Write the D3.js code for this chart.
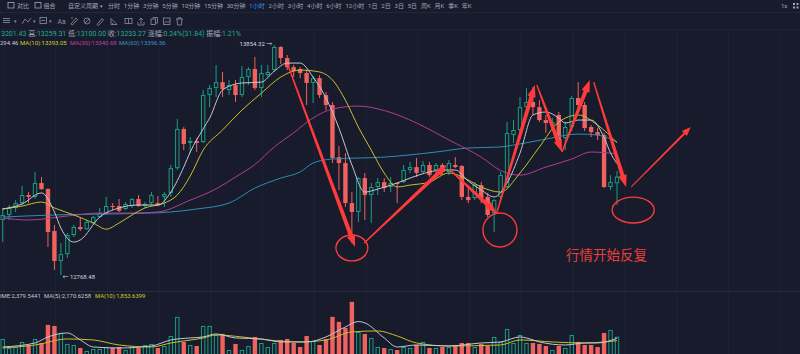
<!DOCTYPE html>
<html>
<head>
<meta charset="utf-8">
<script src="https://cdn.jsdelivr.net/npm/d3@7"></script>
<style>
html, body { margin: 0; padding: 0; background: #171b2b; overflow: hidden; }
svg { display: block; }
text { font-family: Roboto, "Noto Sans CJK SC", sans-serif; }
</style>
</head>
<body>
<div id="container"></div>
<script>
'use strict';
(function() {
    // candles [open, high, low, close], 1 hour bars
    var ohlc = [
        [13028,13085,12924,13052],[13052,13099,13028,13085],[13085,13122,13066,13108],[13108,13188,13099,13146],
        [13146,13160,13108,13137],[13137,13255,13127,13203],[13203,13231,13170,13174],[13174,13179,12901,12971],
        [12976,13005,12792,12835],[12835,12919,12768.48,12867],[12867,12967,12849,12957],[12957,13005,12948,12995],
        [12995,13042,12976,12985],[12985,13028,12981,13019],[13014,13047,13009,13042],[13042,13085,13038,13061],
        [13056,13137,13052,13094],[13094,13108,13075,13090],[13094,13127,13066,13071],[13080,13113,13075,13104],
        [13094,13132,13085,13127],[13127,13146,13090,13094],[13094,13113,13085,13104],[13108,13160,13099,13146],
        [13108,13141,13094,13099],[13137,13160,13090,13151],[13156,13288,13137,13273],[13273,13505,13264,13458],
        [13458,13467,13358,13387],[13392,13420,13344,13401],[13401,13415,13349,13392],[13396,13642,13392,13618],
        [13618,13665,13561,13651],[13651,13760,13609,13679],[13679,13727,13609,13646],[13642,13689,13618,13665],
        [13665,13689,13585,13618],[13618,13755,13609,13703],[13703,13750,13665,13741],[13741,13798,13642,13651],
        [13651,13760,13609,13722],[13712,13760,13703,13727],[13736,13854.32,13727,13845],[13845,13849,13764,13793],
        [13793,13807,13736,13750],[13750,13760,13703,13731],[13741,13750,13698,13722],[13722,13736,13571,13675],
        [13675,13708,13580,13698],[13698,13712,13604,13618],[13618,13632,13547,13571],[13571,13585,13297,13321],
        [13325,13377,13170,13297],[13297,13344,13090,13108],[13108,13160,12919,13066],[13066,13231,13019,13226],
        [13226,13250,13028,13146],[13146,13203,13014,13184],[13184,13226,13146,13207],[13207,13226,13160,13179],
        [13184,13231,13160,13203],[13203,13207,13108,13198],[13207,13288,13203,13264],[13264,13302,13250,13278],
        [13278,13321,13231,13250],[13255,13306,13250,13288],[13288,13302,13231,13240],[13264,13297,13236,13288],
        [13288,13297,13245,13255],[13255,13311,13240,13297],[13288,13325,13273,13278],[13283,13288,13122,13137],
        [13137,13184,13108,13122],[13132,13207,13122,13193],[13193,13207,13108,13132],[13137,13156,13042,13052],
        [13061,13127,12971,13122],[13137,13255,13127,13240],[13184,13491,13179,13439],[13429,13500,13392,13453],
        [13453,13609,13439,13561],[13561,13651,13538,13585],[13585,13656,13524,13561],[13561,13594,13491,13500],
        [13500,13524,13439,13486],[13476,13510,13458,13491],[13524,13538,13392,13406],[13415,13491,13358,13467],
        [13467,13613,13448,13604],[13604,13679,13547,13571],[13571,13585,13448,13462],[13467,13476,13420,13443],
        [13443,13462,13406,13429],[13429,13439,13179,13184],[13184,13240,13170,13207],[13201.43,13259.31,13100.00,13233.27]
    ];
    var volumes = [
        2080,910,1040,1690,1300,2080,1560,3900,3770,2860,
        1430,1300,910,520,780,780,1040,910,1040,650,
        1040,910,1300,1430,910,1170,2470,4940,1690,1300,
        1170,3770,3770,2600,2730,650,1430,650,1170,2340,
        1560,1040,1560,1950,2080,1560,1040,2470,1820,1300,
        2080,4940,4290,3510,6890,2990,2730,2210,1040,910,
        780,650,1040,910,1300,1690,910,910,1040,1040,
        1300,1560,1560,1040,1430,1170,2340,1690,3380,1560,
        2600,1560,1560,1430,1170,650,1170,910,2600,1690,
        1300,1300,1040,2860,3250,2379.5441
    ];

    // moving averages [bar index, value]
    var ma5 = [[0,13080],[3,13104],[6,13156],[8,13066],[9,12990],[11,12924],[12,12934],[15,13042],[18,13085],
        [21,13099],[24,13099],[26,13160],[28,13278],[29,13349],[31,13458],[32,13509],[34,13642],[37,13675],
        [40,13679],[42,13731],[44,13769],[46,13769],[48,13703],[50,13604],[52,13462],[54,13288],[56,13160],
        [58,13174],[61,13203],[63,13226],[66,13255],[68,13264],[70,13264],[72,13212],[74,13170],[76,13137],
        [78,13203],[80,13344],[82,13524],[84,13538],[86,13509],[87,13486],[89,13500],[91,13500],[93,13418],
        [94,13345],[95,13294.46]];
    var ma10 = [[0,13080],[3,13094],[6,13113],[8,13085],[11,13052],[14,13014],[16,12985],[18,13014],[20,13052],
        [22,13085],[25,13108],[27,13146],[29,13236],[31,13358],[34,13453],[37,13547],[40,13627],[43,13703],
        [46,13736],[49,13727],[51,13689],[53,13594],[55,13467],[57,13358],[59,13250],[61,13184],[63,13193],
        [66,13207],[69,13250],[72,13217],[74,13184],[77,13160],[80,13250],[83,13373],[86,13491],[89,13524],
        [92,13476],[95,13393.05]];
    var ma30 = [[0,13038],[4,13028],[10,13047],[15,13061],[20,13061],[24,13066],[29,13122],[33,13175],
        [36,13231],[39,13290],[42,13373],[45,13440],[48,13510],[51,13552],[55,13566],[59,13545],[64,13486],
        [69,13406],[74,13325],[77,13262],[80,13240],[84,13278],[88,13316],[91,13349],[95,13340.68]];
    var ma60 = [[0,13042],[8,13052],[15,13056],[23,13061],[26,13066],[30,13080],[35,13108],[39,13179],
        [43,13226],[46,13255],[48,13297],[51,13316],[59,13325],[67,13349],[72,13368],[77,13373],[79,13382],
        [84,13410],[89,13434],[92,13429],[95,13396.56]];
    var volMa5 = [[0,1040],[5,1560],[7,2340],[10,2860],[12,1950],[14,1040],[18,910],[23,1170],[26,1950],
        [29,2210],[31,2340],[33,2730],[36,2210],[40,2080],[43,1690],[47,1690],[50,2340],[53,3640],[55,4340],
        [56,4160],[59,2210],[61,1040],[64,1300],[69,1170],[74,1560],[77,1690],[80,2340],[81,2210],[83,1690],
        [87,1300],[90,1560],[92,1560],[95,2170.6258]];
    var volMa10 = [[0,910],[5,1300],[10,2080],[14,1950],[18,1300],[23,1040],[26,1560],[31,2210],[33,2600],
        [37,2340],[41,1950],[46,1690],[50,1950],[54,2990],[58,3120],[61,2470],[64,1560],[69,1170],[77,1300],
        [80,1950],[85,1690],[90,1560],[93,1690],[95,1853.6399]];

    // hand drawn notes [bar index, price]
    var waveArrows = [
        [[44.1,13760],[54.5,12901]],
        [[55.9,12919],[68.7,13288]],
        [[69.2,13264],[76.4,13061]],
        [[76.4,13061],[82.3,13665]],
        [[82.6,13665],[86.5,13349]],
        [[86.5,13349],[90.8,13689]],
        [[91.4,13679],[96.4,13184]]
    ];
    var nextArrow = [[97.2,13184],[106.4,13467]];
    var rings = [[54.0,12896,2.47,61],[76.9,12981,2.63,80],[97.5,13075,3.25,61]];
    var noteText = '行情开始反复';
    var noteAt = [87.1,12839];

    var periods = ['分时','1分钟','3分钟','5分钟','10分钟','15分钟','30分钟','1小时','2小时','3小时','4小时',
        '6小时','12小时','1日','2日','3日','5日','周K','月K','季K','年K'];
    var quoteRow = [['3201.43','v'],[' 高:','l'],['13259.31','v'],[' 低:','l'],['13100.00','v'],[' 收:','l'],
        ['13233.27','v'],[' 涨幅:','l'],['0.24%(31.84)','v'],[' 振幅:','l'],['1.21%','v']];
    var maRow = [['294.46','#c9cdd8'],['MA(10):13393.05','#d6cc2a'],['MA(30):13340.68','#c43fa0'],['MA(60):13396.56','#3896c4']];
    var volRow = [['IME:2,379.5441','#c4c8d2'],['MA(5):2,170.6258','#c4c8d2'],['MA(10):1,853.6399','#d6cc2a']];

    var W = 800, H = 354;
    var bg = '#171b2b', up = '#1a9e84', down = '#f0625f', note = '#ff3a3a';

    var svg = d3.select('#container').append('svg').attr('width', W).attr('height', H);
    svg.append('rect').attr('width', W).attr('height', H).attr('fill', bg);

    var x = d3.scaleLinear().domain([0, 95]).range([2.7, 617]);
    var y = d3.scaleLinear().domain([12768.48, 13854.32]).range([275, 45]);
    var yv = d3.scaleLinear().domain([0, 7000]).range([355, 301]);
    var bw = 4.4;

    // grid
    var grid = svg.append('g');
    d3.range(0.2, 121, 8).forEach(function(i) {
        grid.append('line').attr('x1', x(i)).attr('x2', x(i)).attr('y1', 30).attr('y2', H)
            .attr('stroke', '#1f2335').attr('stroke-width', 1);
    });
    [12.5, 30, 291.5].forEach(function(v) {
        grid.append('line').attr('x1', 0).attr('x2', W).attr('y1', v).attr('y2', v)
            .attr('stroke', v > 200 ? '#2a2e42' : '#22263a').attr('stroke-width', 1);
    });

    // top bar
    var top = svg.append('g').attr('font-size', 6).attr('fill', '#a2a7ba');
    top.append('rect').attr('x', 8).attr('y', 2.5).attr('width', 6).attr('height', 5.5).attr('fill', 'none')
        .attr('stroke', '#a2a7ba').attr('stroke-width', 0.8);
    top.append('text').attr('x', 17).attr('y', 7.6).text('对比');
    top.append('rect').attr('x', 35).attr('y', 2.5).attr('width', 6).attr('height', 5.5).attr('fill', 'none')
        .attr('stroke', '#a2a7ba').attr('stroke-width', 0.8);
    top.append('text').attr('x', 43.5).attr('y', 7.6).text('组合');
    top.append('text').attr('x', 68).attr('y', 7.6).text('自定义周期');
    top.append('text').attr('x', 100).attr('y', 7.6).attr('font-size', 5).text('▾');
    var px = 108;
    periods.forEach(function(p) {
        var t = top.append('text').attr('x', px).attr('y', 7.6).text(p)
            .attr('fill', p === '1小时' ? '#3d8cf0' : '#a2a7ba');
        px += t.node().getComputedTextLength() + 3.85;
    });
    top.append('text').attr('x', 781).attr('y', 7.6).text('1s');
    [[793,3],[796.5,3],[793,6.5],[796.5,6.5]].forEach(function(p) {
        top.append('rect').attr('x', p[0]).attr('y', p[1]).attr('width', 2).attr('height', 2).attr('fill', '#a2a7ba');
    });

    // drawing toolbar
    var tb = svg.append('g').attr('stroke', '#8d92a6').attr('stroke-width', 0.8).attr('fill', 'none');
    [18.5, 20.5, 22.5].forEach(function(v) { tb.append('line').attr('x1', 3).attr('x2', 10).attr('y1', v).attr('y2', v); });
    tb.append('path').attr('d', 'M22,24 L25,19 L28,22 L31,18');
    tb.append('rect').attr('x', 40).attr('y', 17.5).attr('width', 6.5).attr('height', 6);
    tb.append('line').attr('x1', 41.5).attr('x2', 45).attr('y1', 20.5).attr('y2', 20.5);
    tb.append('path').attr('d', 'M71,24 L76,18 L77.5,19.5 L72.5,25 Z M73,18 L71,18');
    tb.append('circle').attr('cx', 87).attr('cy', 21).attr('r', 3);
    tb.append('path').attr('d', 'M85,23 L89,19');
    tb.append('path').attr('d', 'M97,24.5 L102,18.5 L103.5,20 L98.5,25.5 Z');
    tb.append('path').attr('d', 'M111,24.5 L117,24.5 L111,18.5 Z M112.5,24.5 L112.5,23');
    tb.append('rect').attr('x', 125).attr('y', 18.5).attr('width', 7).attr('height', 5);
    tb.append('line').attr('x1', 128.5).attr('x2', 128.5).attr('y1', 18.5).attr('y2', 23.5);
    tb.append('path').attr('d', 'M138,22 L138,25 L144,25 L144,22 M141,24 L141,18 M139,20 L141,18 L143,20');
    tb.append('rect').attr('x', 151).attr('y', 19).attr('width', 4.5).attr('height', 5.5);
    tb.append('path').attr('d', 'M153,18.5 L153,17.5 L157.5,17.5 L157.5,23 L156,23');
    tb.append('rect').attr('x', 163.5).attr('y', 18).attr('width', 6.5).attr('height', 6.5);
    tb.append('path').attr('d', 'M164,23.5 L166.5,21 L168,22.5 L170,20.5');
    tb.append('path').attr('d', 'M176,19 L183,19 M178,19 L178,17.8 L181,17.8 L181,19 M177,19 L177.6,25 L181.4,25 L182,19');
    var tbt = svg.append('g').attr('fill', '#8d92a6').attr('font-size', 5);
    tbt.append('text').attr('x', 13.5).attr('y', 23).text('▾');
    tbt.append('text').attr('x', 33).attr('y', 23).text('▾');
    tbt.append('text').attr('x', 49).attr('y', 23).text('▾');
    tbt.append('text').attr('x', 57.5).attr('y', 23.5).attr('font-size', 6.8).text('Aa');

    // quote rows
    var q = svg.append('text').attr('x', 1).attr('y', 36.4).attr('font-size', 7);
    quoteRow.forEach(function(s) {
        q.append('tspan').attr('fill', s[1] === 'v' ? '#22b08f' : '#a3a8bb').text(s[0]);
    });
    var maX = [0, 20, 70, 119];
    maRow.forEach(function(s, i) {
        svg.append('text').attr('x', maX[i]).attr('y', 45.3).attr('font-size', 6).attr('fill', s[1]).text(s[0]);
    });
    var vX = [0, 44, 95];
    volRow.forEach(function(s, i) {
        svg.append('text').attr('x', vX[i]).attr('y', 298.3).attr('font-size', 5.9).attr('fill', s[1]).text(s[0]);
    });

    // volume bars
    var vol = svg.append('g');
    volumes.forEach(function(v, i) {
        var rise = ohlc[i][3] >= ohlc[i][0];
        var r = vol.append('rect');
        if (rise) {
            r.attr('x', x(i) - bw / 2 + 0.5).attr('y', yv(v) + 0.5).attr('width', bw - 1)
                .attr('height', yv(0) - yv(v)).attr('fill', bg).attr('stroke', up).attr('stroke-width', 1);
        } else {
            r.attr('x', x(i) - bw / 2).attr('y', yv(v)).attr('width', bw)
                .attr('height', yv(0) - yv(v)).attr('fill', down);
        }
    });
    var vline = d3.line().x(function(d) { return x(d[0]); }).y(function(d) { return yv(d[1]); }).curve(d3.curveMonotoneX);
    svg.append('path').attr('d', vline(volMa10)).attr('fill', 'none').attr('stroke', '#c8bf2a').attr('stroke-width', 1);
    svg.append('path').attr('d', vline(volMa5)).attr('fill', 'none').attr('stroke', '#c3c7d3').attr('stroke-width', 1);

    // candles
    var cg = svg.append('g');
    ohlc.forEach(function(d, i) {
        var rise = d[3] >= d[0];
        var c = rise ? up : down;
        var cx = x(i);
        var t = y(Math.max(d[0], d[3])), b = y(Math.min(d[0], d[3]));
        cg.append('line').attr('x1', cx).attr('x2', cx).attr('y1', y(d[1])).attr('y2', y(d[2]))
            .attr('stroke', c).attr('stroke-width', 1);
        if (rise) {
            cg.append('rect').attr('x', cx - bw / 2 + 0.5).attr('y', t + 0.5).attr('width', bw - 1)
                .attr('height', Math.max(b - t - 1, 0.3)).attr('fill', bg).attr('stroke', c).attr('stroke-width', 1);
        } else {
            cg.append('rect').attr('x', cx - bw / 2).attr('y', t).attr('width', bw)
                .attr('height', Math.max(b - t, 1)).attr('fill', c);
        }
    });

    // moving averages
    var pline = d3.line().x(function(d) { return x(d[0]); }).y(function(d) { return y(d[1]); }).curve(d3.curveMonotoneX);
    [[ma60, '#2e8db3'], [ma30, '#b23d92'], [ma10, '#c9c02b'], [ma5, '#c3c7d3']].forEach(function(m) {
        svg.append('path').attr('d', pline(m[0])).attr('fill', 'none').attr('stroke', m[1]).attr('stroke-width', 1);
    });

    // high / low labels
    var hiIdx = d3.maxIndex(ohlc, function(d) { return d[1]; });
    var loIdx = d3.minIndex(ohlc, function(d) { return d[2]; });
    svg.append('text').attr('x', x(hiIdx) - 2).attr('y', y(ohlc[hiIdx][1]) + 0.5).attr('text-anchor', 'end')
        .attr('font-size', 6).attr('fill', '#d2d6e0').text(d3.format('.2f')(ohlc[hiIdx][1]) + ' →');
    svg.append('text').attr('x', x(loIdx) + 1.5).attr('y', y(ohlc[loIdx][2]) + 4).attr('font-size', 6)
        .attr('fill', '#d2d6e0').text('← ' + d3.format('.2f')(ohlc[loIdx][2]));

    // annotations
    function arrowPath(a, w0, w1, hl, hw) {
        var p0 = [x(a[0][0]), y(a[0][1])], p1 = [x(a[1][0]), y(a[1][1])];
        var dx = p1[0] - p0[0], dy = p1[1] - p0[1], len = Math.sqrt(dx * dx + dy * dy);
        var ux = dx / len, uy = dy / len, nx = -uy, ny = ux;
        var bx = p1[0] - ux * hl, by = p1[1] - uy * hl;
        var pts = [
            [p0[0] + nx * w0 / 2, p0[1] + ny * w0 / 2],
            [bx + nx * w1 / 2, by + ny * w1 / 2],
            [bx + nx * hw / 2, by + ny * hw / 2],
            p1,
            [bx - nx * hw / 2, by - ny * hw / 2],
            [bx - nx * w1 / 2, by - ny * w1 / 2],
            [p0[0] - nx * w0 / 2, p0[1] - ny * w0 / 2]
        ];
        return 'M' + pts.map(function(p) { return p[0].toFixed(1) + ',' + p[1].toFixed(1); }).join('L') + 'Z';
    }
    var ann = svg.append('g');
    waveArrows.forEach(function(a) {
        ann.append('path').attr('d', arrowPath(a, 1.4, 4.2, 12, 8.5)).attr('fill', note);
    });
    ann.append('path').attr('d', arrowPath(nextArrow, 1, 2.2, 9, 7)).attr('fill', note);
    rings.forEach(function(r) {
        ann.append('ellipse').attr('cx', x(r[0])).attr('cy', y(r[1]))
            .attr('rx', x(r[0] + r[2]) - x(r[0])).attr('ry', y(r[1]) - y(r[1] + r[3]))
            .attr('fill', 'none').attr('stroke', note).attr('stroke-width', 1.4);
    });
    ann.append('text').attr('x', x(noteAt[0])).attr('y', y(noteAt[1])).attr('font-size', 13.5)
        .attr('fill', '#e8403c').attr('font-family', '"Noto Sans CJK SC", sans-serif').text(noteText);
})();
</script>
</body>
</html>
